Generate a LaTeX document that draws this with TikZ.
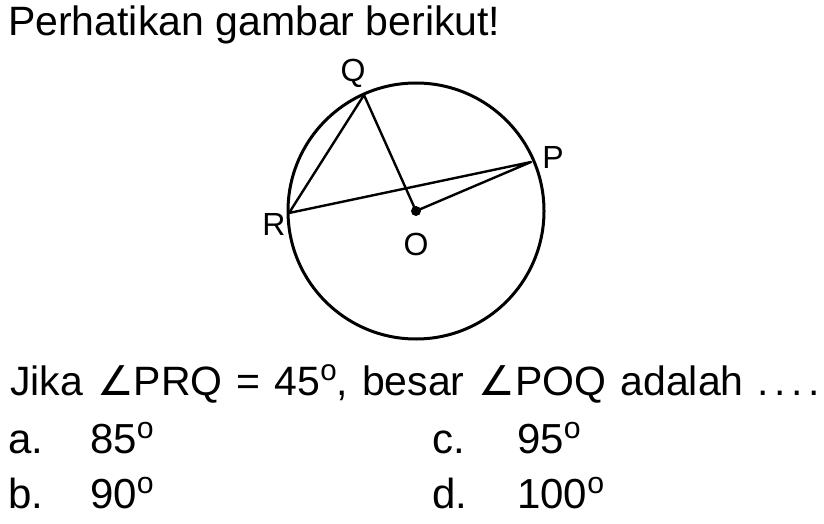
\documentclass[tikz,border=0pt]{standalone}
\usepackage{fontspec}
\setsansfont{Liberation Sans}
\newfontfamily\symfont{DejaVu Sans}
\newcommand{\sudut}{{\symfont\char"2220}}
\newcommand{\derajat}{\raisebox{.66ex}{\scalebox{.72}{o}}}
\newcommand{\titiktitik}{.\kern.14em.\kern.14em.\kern.14em.}
\newcommand{\spasilebar}{\spaceskip 14pt\relax}
\usetikzlibrary{positioning}

\begin{document}
\begin{tikzpicture}[%
    x=1pt, y=-1pt,
    font=\sffamily\upshape,
    teks/.style={anchor=base west, inner sep=0pt,
        font=\sffamily\fontsize{41}{46}\selectfont},
    soalteks/.style={teks,
        font=\sffamily\fontsize{41}{46}\selectfont\spasilebar},
    pilihan/.style={teks, font=\sffamily\fontsize{42}{46}\selectfont},
    titik/.style={inner sep=0pt, font=\sffamily\fontsize{32}{36}\selectfont},
    garis/.style={line width=2.4pt, line cap=round, line join=round}
    ]
        \useasboundingbox (0,0) rectangle (824,524);

        % Judul
        \node[teks] (judul) at (8,36) {Perhatikan gambar berikut!};

        % Lingkaran
        \coordinate (O) at (416,211);
        \coordinate (Q) at (364,95);
        \coordinate (P) at (531,162);
        \coordinate (R) at (289,213);

        \draw[line width=3pt] (O) circle (128pt);
        \draw[garis] (R) -- (Q) -- (O) -- (P) -- (R);
        \fill (O) circle (5pt);

        % Titik
        \node[titik] (lQ) at (353,73) {Q};
        \node[titik] (lP) at (553,157) {P};
        \node[titik] (lR) at (274,224) {R};
        \node[titik] (lO) at (416,244) {O};

        % Soal
        \node[soalteks] (soal) at (10,395)
            {Jika \sudut PRQ = 45\derajat, besar \sudut POQ adalah \titiktitik};

        % Pilihan
        \node[pilihan] (a)  at (8,453)   {a.};
        \node[pilihan] (a1) at (90,453)  {85\derajat};
        \node[pilihan] (b)  at (8,508)   {b.};
        \node[pilihan] (b1) at (90,508)  {90\derajat};
        \node[pilihan] (c)  at (432,453) {c.};
        \node[pilihan] (c1) at (517,453) {95\derajat};
        \node[pilihan] (d)  at (432,508) {d.};
        \node[pilihan] (d1) at (517,508) {100\derajat};
\end{tikzpicture}
\end{document}
